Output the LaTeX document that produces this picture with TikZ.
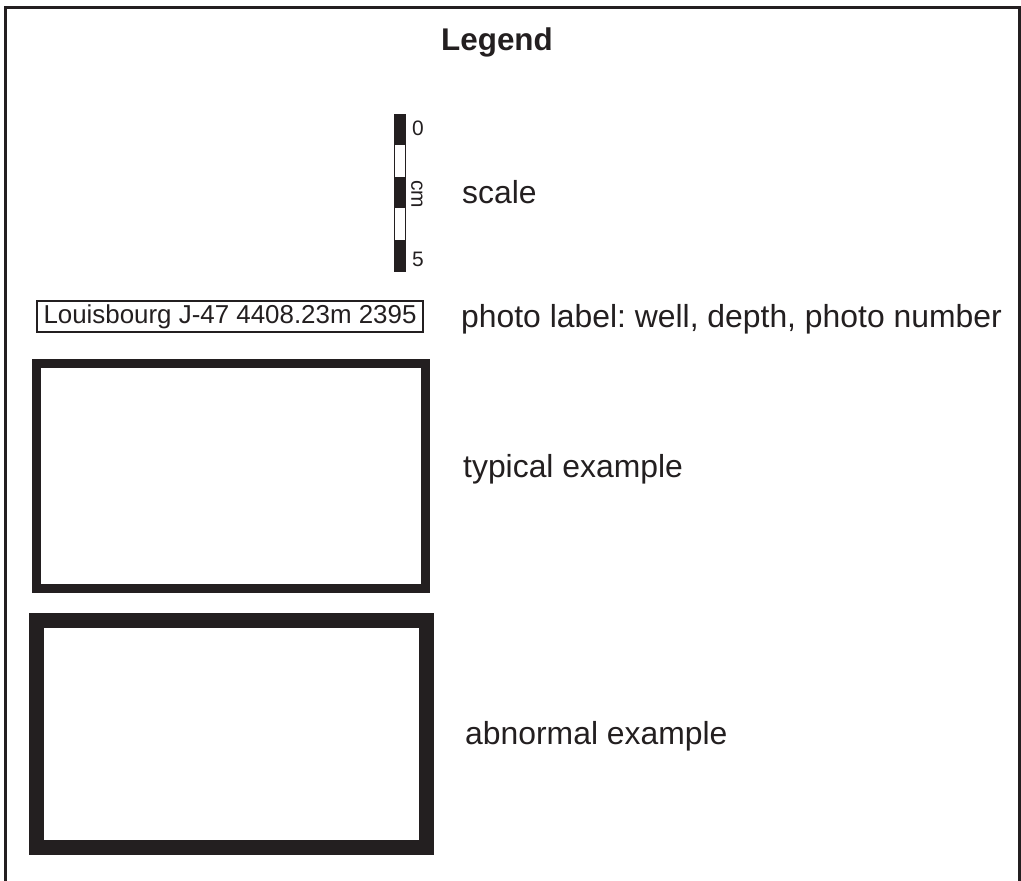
\documentclass[tikz,border=0pt]{standalone}
\usepackage{fontspec}
\setmainfont{Liberation Sans}
\definecolor{ink}{HTML}{231F20}
\frenchspacing
\begin{document}
\begin{tikzpicture}[x=1bp,y=-1bp,
  txt/.style={anchor=base west,inner sep=0pt,text=ink,font=\fontsize{32}{36}\selectfont},
  small/.style={inner sep=0pt,text=ink,font=\fontsize{21}{24}\selectfont},
  frameline/.style={draw=ink,line width=2.7bp},
  photo/.style={draw=ink,fill=white}]
\useasboundingbox (0,0) rectangle (1021,881);
% outer frame (open at the bottom)
\draw[frameline] (5.3,881) -- (5.3,7.5) -- (1019.6,7.5) -- (1019.6,881);
% title
\node[txt,font=\fontsize{31.5}{36}\selectfont\bfseries] (title) at (441,50) {Legend};
% scale bar, 5 cm in alternating blocks
\foreach \i/\c in {0/ink,1/white,2/ink,3/white,4/ink}{
  \fill[\c] (394,114+31.4*\i) rectangle (405,114+31.4*\i+31.4);
}
\draw[ink,line width=0.6bp] (394,114) rectangle (405,271);
\node[small,anchor=west] (zero) at (412,128) {0};
\node[small,anchor=west] (five) at (412,259) {5};
\node[small,rotate=-90] (cm) at (417,194) {cm};
\node[txt] (scaletxt) at (462,203) {scale};
% photo label
\node[draw=ink,line width=1.4bp,inner xsep=3bp,inner ysep=2bp,text=ink,
      font=\fontsize{26}{30}\selectfont,minimum width=386bp,minimum height=31bp]
      (label) at (230,316.5) {Louisbourg J-47 4408.23m 2395};
\node[txt] (labeltxt) at (461,327) {photo label: well, depth, photo number};
% example frames
\draw[photo,line width=9bp] (36.5,363.5) rectangle (425.5,588.5);
\node[txt] (typical) at (463,477) {typical example};
\draw[photo,line width=15bp] (36.5,620.5) rectangle (426.5,847.5);
\node[txt] (abnormal) at (465,744) {abnormal example};
\end{tikzpicture}
\end{document}
